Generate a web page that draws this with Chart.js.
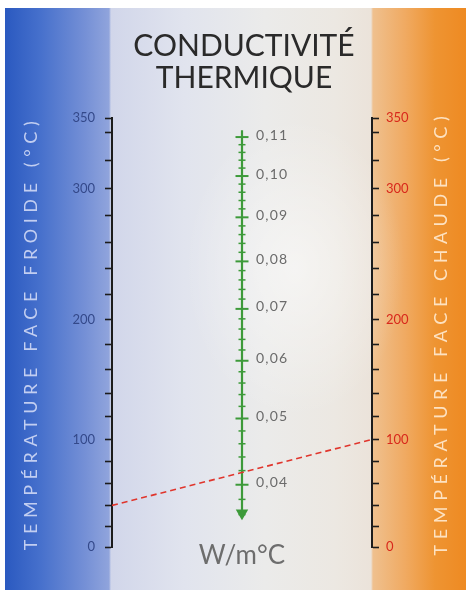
<!DOCTYPE html>
<html><head><meta charset="utf-8">
<script src="https://cdn.jsdelivr.net/npm/chart.js@4.4.1/dist/chart.umd.min.js"></script>
<style>
html,body{margin:0;padding:0;background:#fff;}
#wrap{position:relative;width:466px;height:593px;overflow:hidden;background:#fff;}
#bg{position:absolute;left:5px;top:8px;width:461px;height:582px;
background:
 radial-gradient(ellipse 110px 150px at 290px 260px, rgba(255,255,255,0.5), rgba(255,255,255,0) 100%),
 linear-gradient(to right, #2a59c0 0px, #4670cc 35px, #7590d6 80px, #90a4dc 104px, #d1d6ea 106px, #e1e4ee 180px, #ebebea 260px, #ece8e2 330px, #ebe3da 366px, #efc08e 368px, #f0aa62 400px, #ee9432 430px, #ee8a22 461px);}
canvas{position:absolute;left:0;top:0;}
</style></head>
<body><div id="wrap"><div id="bg"></div><canvas id="c" width="466" height="593"></canvas></div>
<script>
// ---- data ----
const TEMP_TICKS = [0,20,40,60,80,100,120,140,160,180,200,220,240,260,280,300,320,340,350];
const TEMP_LABELS = [0,100,200,300,350];
const COND_TICKS = [0.036,0.038,0.040,0.042,0.044,0.046,0.048,0.050,0.052,0.054,0.056,0.058,0.060,0.062,0.064,0.066,0.068,0.070,0.072,0.074,0.076,0.078,0.080,0.082,0.084,0.086,0.088,0.090,0.092,0.094,0.096,0.098,0.100,0.102,0.104,0.106,0.108,0.110];
const COND_LABELS = [0.04,0.05,0.06,0.07,0.08,0.09,0.10,0.11];
const COND_LINE = [0.1118, 0.0362];
const COLD_FACE_T = 40;
const HOT_FACE_T = 100;
const TITLE_LINES = ['CONDUCTIVITÉ','THERMIQUE'];
const LEFT_TITLE = 'TEMPÉRATURE FACE FROIDE (°C)';
const RIGHT_TITLE = 'TEMPÉRATURE FACE CHAUDE (°C)';
const UNIT = 'W/m°C';

// ---- nomogram scale ----
const NOMO = {
  temp: v => 1.01*v + 0.0006*v*v,
  cond: v => { const a=0.03203,b=1.174e-4,c=1.806e-7; return (-b + Math.sqrt(b*b - 4*c*(a - v)))/(2*c); }
};
const NOMO_SPAN = 427;
class NomoScale extends Chart.LinearScale {
  getPixelForValue(value){
    if (value === null || value === undefined || isNaN(value)) return NaN;
    const f = NOMO[this.options.nomo];
    return this.getPixelForDecimal(f(value)/NOMO_SPAN);
  }
  getValueForPixel(pixel){
    const f = NOMO[this.options.nomo];
    const target = (1-(pixel-this.top)/(this.bottom-this.top))*NOMO_SPAN;
    let lo=this.min, hi=this.max;
    for (let i=0;i<50;i++){ const m=(lo+hi)/2; if (f(m)<target) lo=m; else hi=m; }
    return (lo+hi)/2;
  }
}
NomoScale.id = 'nomo';
NomoScale.defaults = {};
Chart.register(NomoScale);

const FONT = 'Lato';
const fmtComma = v => v.toFixed(2).replace('.', ',');

const decorations = {
  id: 'decorations',
  beforeDatasetsDraw(chart){
    const c = chart.ctx;
    c.save();
    c.font = '18px ' + FONT;
    c.letterSpacing = '5.6px';
    c.textAlign = 'center';
    c.textBaseline = 'middle';
    c.save(); c.translate(31, 333); c.rotate(-Math.PI/2);
    c.fillStyle = '#c2cef1'; c.fillText(LEFT_TITLE, 0, 0); c.restore();
    c.save(); c.translate(441, 333); c.rotate(-Math.PI/2);
    c.fillStyle = '#fde2c2'; c.fillText(RIGHT_TITLE, 0, 0); c.restore();
    c.restore();
  },
  afterDatasetsDraw(chart){
    const c = chart.ctx, ym = chart.scales.yM, x = chart.scales.x.getPixelForValue(0.5);
    c.save();
    c.font = '14px ' + FONT;
    c.letterSpacing = '1.2px';
    c.fillStyle = '#6b6b6b';
    c.textAlign = 'left';
    c.textBaseline = 'middle';
    COND_LABELS.forEach(v => c.fillText(fmtComma(v), x + 14, ym.getPixelForValue(v) - 2));
    c.restore();
  }
};

const isMajor = v => COND_LABELS.some(m => Math.abs(m - v) < 1e-9);

function tempAxis(pos, color, width){
  return {
    type: 'nomo', nomo: 'temp', position: pos, min: 0, max: 350,
    afterBuildTicks: s => { s.ticks = TEMP_TICKS.map(v => ({value: v})); },
    afterFit: s => { s.width = width; },
    ticks: { autoSkip: false, color: color, font: {family: FONT, size: 13},
             padding: pos === 'left' ? 10 : 7,
             callback: v => TEMP_LABELS.includes(v) ? String(v) : '' },
    grid: { drawOnChartArea: false, tickLength: 7, tickColor: '#1c1c1c', tickWidth: 1.6 },
    border: { color: '#1c1c1c', width: 2 }
  };
}

new Chart(document.getElementById('c'), {
  type: 'scatter',
  data: { datasets: [
    { data: [{x:0, y:COLD_FACE_T}, {x:1, y:HOT_FACE_T}], yAxisID: 'yL', showLine: true,
      borderColor: '#e0352c', borderDash: [6,4], borderWidth: 1.6, pointRadius: 0, order: 0 },
    { data: COND_LINE.map(v => ({x:0.5, y:v})), yAxisID: 'yM', showLine: true,
      borderColor: '#3d9a3a', borderWidth: 2.2, pointStyle: 'triangle', rotation: 180,
      pointRadius: [0, 5], pointBackgroundColor: '#3d9a3a', pointBorderColor: '#3d9a3a', order: 1 },
    { data: COND_TICKS.map(v => ({x:0.5, y:v})), yAxisID: 'yM', showLine: false,
      pointStyle: 'line', borderColor: '#3d9a3a', pointBorderColor: '#3d9a3a',
      pointRadius: ctx => isMajor(ctx.raw.y) ? 6.5 : 3.5,
      pointBorderWidth: ctx => isMajor(ctx.raw.y) ? 2 : 1.5, order: 2 }
  ]},
  options: {
    responsive: false, animation: false, events: [],
    layout: { padding: { left: 22, right: 0, top: 0, bottom: 24 } },
    plugins: {
      legend: { display: false }, tooltip: { enabled: false },
      title: { display: true, text: TITLE_LINES, color: '#2a2a2a',
               font: { family: FONT, size: 30, weight: 'normal', lineHeight: 1.05 },
               padding: { top: 31, bottom: 24 } }
    },
    scales: {
      x: { type: 'linear', min: 0, max: 1, grid: { display: false, drawTicks: false }, border: { display: false },
           ticks: { display: false },
           title: { display: true, text: UNIT, color: '#6d6d6d', font: { family: FONT, size: 26, lineHeight: 1 },
                    padding: { top: -4, bottom: 0 } } },
      yL: tempAxis('left', '#34498a', 90),
      yR: tempAxis('right', '#d8281c', 94),
      yM: { type: 'nomo', nomo: 'cond', display: false, position: 'left', min: 0.03, max: 0.115 }
    }
  },
  plugins: [decorations]
});
</script></body></html>
